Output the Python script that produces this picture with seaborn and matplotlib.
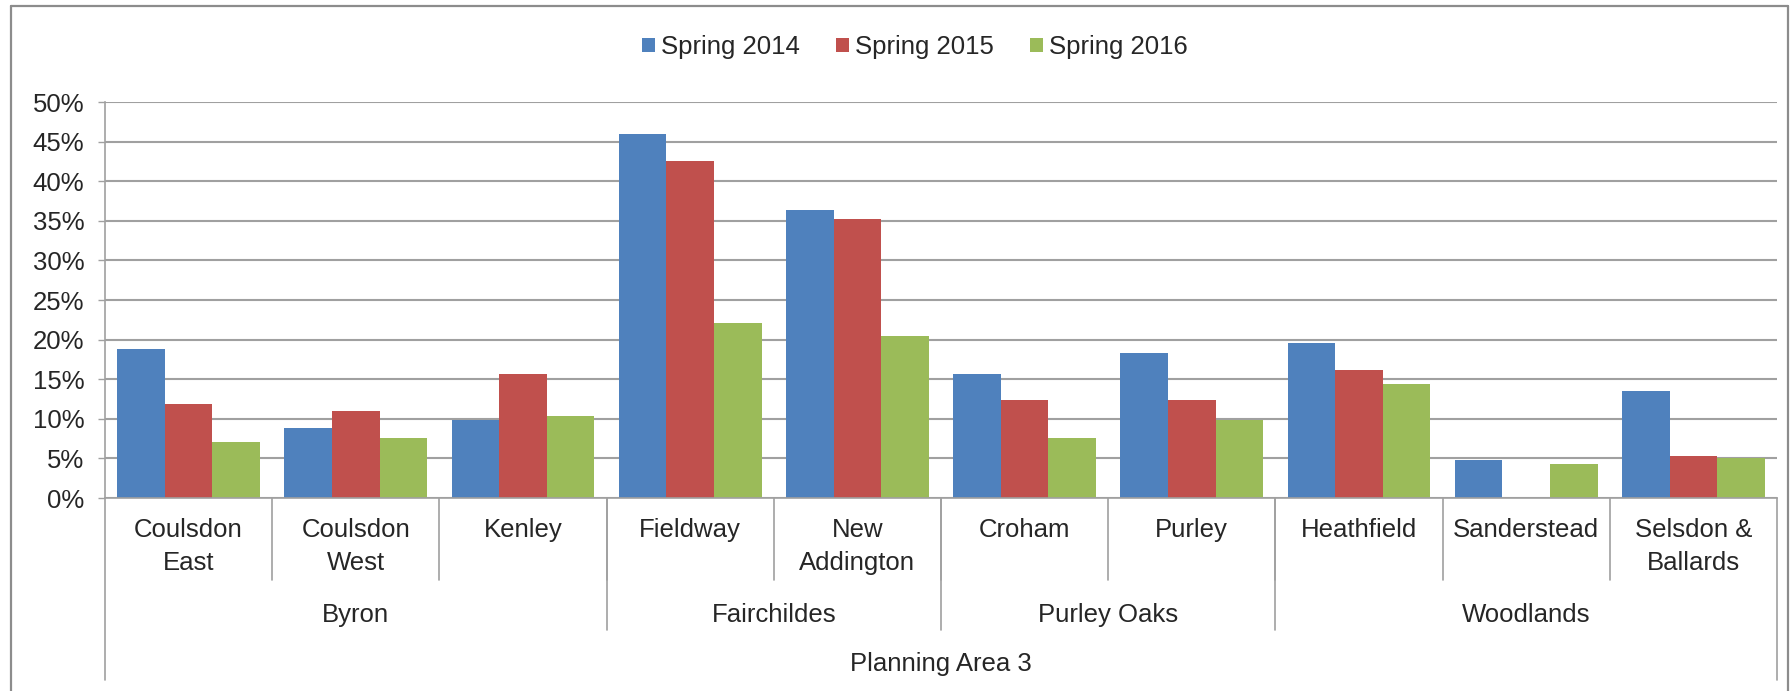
import pandas as pd
import seaborn as sns
import matplotlib.pyplot as plt
from matplotlib.lines import Line2D

# Chart data
wards = ['Coulsdon\nEast', 'Coulsdon\nWest', 'Kenley', 'Fieldway', 'New\nAddington',
         'Croham', 'Purley', 'Heathfield', 'Sanderstead', 'Selsdon &\nBallards']
areas = ['Byron', 'Fairchildes', 'Purley Oaks', 'Woodlands']
area_sizes = [3, 2, 2, 3]
top_label = 'Planning Area 3'
years = ['Spring 2014', 'Spring 2015', 'Spring 2016']
spring_2014 = [18.8, 8.8, 9.8, 46.0, 36.4, 15.7, 18.3, 19.6, 4.8, 13.5]
spring_2015 = [11.9, 11.0, 15.6, 42.5, 35.2, 12.4, 12.4, 16.2, 0.0, 5.3]
spring_2016 = [7.1, 7.6, 10.3, 22.1, 20.5, 7.6, 9.8, 14.4, 4.3, 5.1]
colors = ['#4F81BD', '#C0504D', '#9BBB59']

df = pd.DataFrame({'ward': wards * 3,
                   'year': [y for y in years for _ in wards],
                   'value': spring_2014 + spring_2015 + spring_2016})

sns.set_style('white')
plt.rcParams['font.family'] = ['Liberation Sans', 'DejaVu Sans']
fs = 18.5
grey = '#A0A0A0'

W, H = 1791, 691
fig = plt.figure(figsize=(W / 100, H / 100), dpi=100)
ax = fig.add_axes([105 / W, 1 - 498 / H, (1777 - 105) / W, 396 / H])

sns.barplot(data=df, x='ward', y='value', hue='year', order=wards, hue_order=years,
            palette=colors, saturation=1, width=0.855, errorbar=None, linewidth=0,
            ax=ax)

ax.set_xlim(-0.5, len(wards) - 0.5)
ax.set_ylim(0, 50)
ax.set_yticks(range(0, 51, 5))
ax.set_yticklabels([f'{v}%' for v in range(0, 51, 5)], fontsize=fs)
ax.tick_params(axis='y', left=True, length=5, width=1, color=grey, pad=10)
ax.set_xticks([])
ax.set_xlabel('')
ax.set_ylabel('')
ax.set_axisbelow(True)
ax.yaxis.grid(True, color=grey, lw=1.5)
for s in ['top', 'right']:
    ax.spines[s].set_visible(False)
for s in ['left', 'bottom']:
    ax.spines[s].set_color(grey)
    ax.spines[s].set_linewidth(1.2)

# multi-level category axis
tr = ax.get_xaxis_transform()
h_ax = 396.0


def vline(x, depth):
    ax.add_line(Line2D([x, x], [0, -depth / h_ax], transform=tr, color=grey,
                       lw=1.2, clip_on=False))


for i, w in enumerate(wards):
    ax.text(i, -20 / h_ax, w, transform=tr, ha='center', va='top', fontsize=fs,
            linespacing=1.45)
for i in range(1, len(wards)):
    vline(i - 0.5, 82)

start = 0
for name, n in zip(areas, area_sizes):
    ax.text(start + (n - 1) / 2, -117 / h_ax, name, transform=tr, ha='center',
            va='center', fontsize=fs)
    if start > 0:
        vline(start - 0.5, 132)
    start += n

ax.text((len(wards) - 1) / 2, -166 / h_ax, top_label, transform=tr, ha='center',
        va='center', fontsize=fs)
vline(-0.5, 182)
vline(len(wards) - 0.5, 182)

# legend
handles, labels = ax.get_legend_handles_labels()
ax.legend(handles, labels, loc='center', bbox_to_anchor=(915 / W, 1 - 47 / H),
          bbox_transform=fig.transFigure, ncol=3, frameon=False, fontsize=fs,
          handlelength=0.5, handleheight=0.5, handletextpad=0.25, columnspacing=1.4)

# outer chart border
bc = '#8C8C8C'
fig.add_artist(Line2D([11 / W, 11 / W], [-0.05, 1 - 6 / H], color=bc, lw=1.6))
fig.add_artist(Line2D([11 / W, 1788 / W], [1 - 6 / H, 1 - 6 / H], color=bc, lw=1.6))
fig.add_artist(Line2D([1788 / W, 1788 / W], [-0.05, 1 - 6 / H], color=bc, lw=1.6))

fig.savefig('out.png', dpi=100)
